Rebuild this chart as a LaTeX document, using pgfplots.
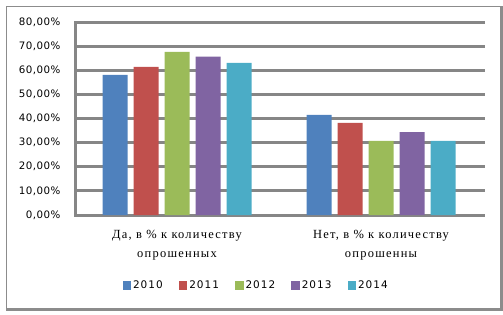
\documentclass[border=0pt]{standalone}
\usepackage{pgfplots}
\pgfplotsset{compat=1.18}
\usepackage{fontspec}
\setmainfont{Liberation Serif}
\newfontfamily\tickfont[LetterSpace=5]{DejaVu Sans}
\newfontfamily\legfont[LetterSpace=10]{DejaVu Sans}
\newfontfamily\catfont[LetterSpace=10]{Liberation Serif}
\definecolor{c10}{HTML}{4F81BD}
\definecolor{c11}{HTML}{C0504D}
\definecolor{c12}{HTML}{9BBB59}
\definecolor{c13}{HTML}{8064A2}
\definecolor{c14}{HTML}{4BACC6}
\definecolor{gridc}{HTML}{868686}
\definecolor{framec}{HTML}{8C8C8C}
\pgfplotstableread{
cat y2010 y2011 y2012 y2013 y2014
0 58.1 61.4 67.6 65.6 63.1
1 41.5 38.2 30.7 34.4 30.7
}\datatable
\begin{document}
\begin{tikzpicture}[x=1bp,y=1bp]
\path (0,0) rectangle (503,314);
\fill[framec] (6,6) rectangle (7,308);
\fill[framec] (6,307) rectangle (500,308);
\fill[framec] (500,3) rectangle (503,308);
\fill[framec] (6,3) rectangle (503,6);
\foreach \k in {0,...,8} {
  \fill[gridc] (73.5,{99+24.125*\k-1.5}) rectangle (484.5,{99+24.125*\k+1.5});
}
\fill[gridc] (73.5,97.5) rectangle (76.5,293.5);
\begin{axis}[
  at={(75bp,99bp)}, anchor=south west,
  scale only axis, width=408bp, height=193bp,
  ybar=6bp, bar width=25bp,
  xmin=-0.5, xmax=1.5, ymin=0, ymax=80,
  xtick={0,1}, xticklabels={},
  ytick={0,10,20,30,40,50,60,70,80},
  yticklabels={{0,00\%},{10,00\%},{20,00\%},{30,00\%},{40,00\%},{50,00\%},{60,00\%},{70,00\%},{80,00\%}},
  yticklabel style={font=\tickfont\fontsize{10.3}{12}\selectfont, text=black},
  ymajorgrids,
  major grid style={draw=gridc, line width=3bp},
  major tick length=0pt,
  axis x line*=bottom, axis y line*=left,
  axis line style={draw=gridc, line width=3bp, -},
  yticklabel shift=11bp,
  clip=false,
  legend style={at={(0.444,-0.365)}, anchor=center, draw=none, fill=none, legend columns=5,
    font=\legfont\fontsize{10.5}{12}\selectfont,
    /tikz/every even column/.append style={column sep=14bp}},
  legend image code/.code={\fill[#1] (0bp,-4.5bp) rectangle (8.5bp,4.5bp);},
]
\addplot[fill=c10, draw=none] table[x=cat,y=y2010]{\datatable};
\addplot[fill=c11, draw=none] table[x=cat,y=y2011]{\datatable};
\addplot[fill=c12, draw=none] table[x=cat,y=y2012]{\datatable};
\addplot[fill=c13, draw=none] table[x=cat,y=y2013]{\datatable};
\addplot[fill=c14, draw=none] table[x=cat,y=y2014]{\datatable};
\legend{2010,2011,2012,2013,2014}
\node[font=\catfont\fontsize{12.5}{19}\selectfont, align=center, anchor=north] at (axis cs:0,0) [yshift=-12bp] {Да, в \% к количеству\\опрошенных};
\node[font=\catfont\fontsize{12.5}{19}\selectfont, align=center, anchor=north] at (axis cs:1,0) [yshift=-12bp] {Нет, в \% к количеству\\опрошенны};
\end{axis}
\end{tikzpicture}
\end{document}
